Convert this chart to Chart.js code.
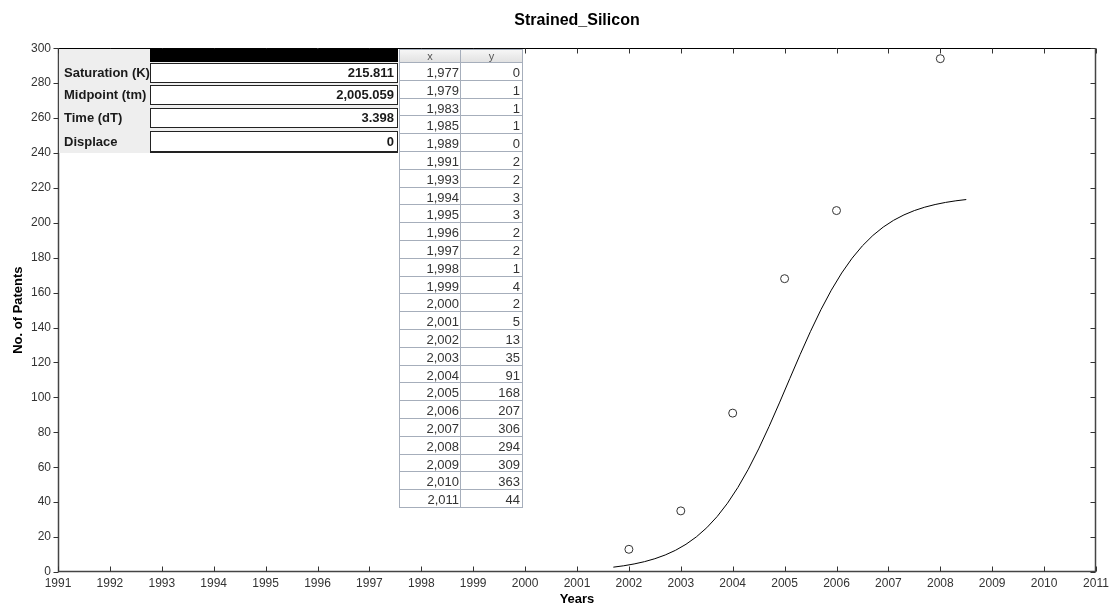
<!DOCTYPE html>
<html>
<head>
<meta charset="utf-8">
<script src="https://cdn.jsdelivr.net/npm/chart.js@4/dist/chart.umd.min.js"></script>
<style>
  html, body { margin: 0; padding: 0; background: #fff; }
  #wrap { position: relative; width: 1114px; height: 606px; overflow: hidden;
          font-family: "Liberation Sans", Arial, sans-serif; }
  #chart { position: absolute; left: 0; top: 0; }
  .panel { position: absolute; left: 59px; top: 49px; width: 339px; height: 104px; background: #eeeeee; }
  .bar { position: absolute; left: 150px; top: 49px; width: 248px; height: 13px; background: #000; }
  .lbl { position: absolute; left: 64px; font-weight: bold; font-size: 13px; color: #1a1a1a; }
  .fld { position: absolute; left: 150px; width: 248px; box-sizing: border-box; background: #fff;
         border: 1px solid #222; text-align: right; padding-right: 3px; font-weight: bold;
         font-size: 13px; color: #1a1a1a; }
  .hdr { position: absolute; height: 14px; box-sizing: border-box; font-size: 11px; color: #555;
         text-align: center; line-height: 12px; background: linear-gradient(#f6f6f6, #e2e2e2);
         border: 1px solid #a6aebb; }
  .cell { position: absolute; box-sizing: border-box; font-size: 13px; color: #333; text-align: right;
          padding-right: 2px; background: #fff; border-bottom: 1px solid #a6aebb; border-left: 1px solid #a6aebb; }
  .cell.yv { border-right: 1px solid #a6aebb; }
</style>
</head>
<body>
<div id="wrap">
  <canvas id="chart" width="1114" height="606"></canvas>
</div>
<script>
// Yearly patent counts (x = year, y = patents)
const tableX = [1977, 1979, 1983, 1985, 1989, 1991, 1993, 1994, 1995, 1996, 1997, 1998, 1999,
                2000, 2001, 2002, 2003, 2004, 2005, 2006, 2007, 2008, 2009, 2010, 2011];
const tableY = [0, 1, 1, 1, 0, 2, 2, 3, 3, 2, 2, 1, 4,
                2, 5, 13, 35, 91, 168, 207, 306, 294, 309, 363, 44];

// Years plotted as observed points
const plotFrom = 2002;
const plotTo = 2010;

// Fitted logistic parameters
const paramLabels = ['Saturation (K)', 'Midpoint (tm)', 'Time (dT)', 'Displace'];
const paramValues = [215.811, 2005.059, 3.398, 0];

// Span of the fitted curve
const curveFrom = 2001.7;
const curveTo = 2008.5;
const curveStep = 0.2;

// Axis ranges and ticks
const xMin = 1991, xMax = 2011, xStep = 1;
const yMin = 0, yMax = 300, yStep = 20;

const chartTitle = 'Strained_Silicon';
const xTitle = 'Years';
const yTitle = 'No. of Patents';

const FONT = '"Liberation Sans", Arial, sans-serif';

// observed points
const points = [];
tableX.forEach((yr, i) => {
  if (yr >= plotFrom && yr <= plotTo) points.push({ x: yr, y: tableY[i] });
});

// Fisher-Pry logistic curve from the parameters in the panel
const [K, tm, dT, disp] = paramValues;
const rate = Math.log(81) / dT;
const curve = [];
for (let t = curveFrom; t <= curveTo + 1e-9; t += curveStep) {
  curve.push({ x: t, y: K / (1 + Math.exp(-rate * (t - tm))) + disp });
}

// frame with inward ticks on bottom/top/right and outward ticks on the left
const framePlugin = {
  id: 'frame',
  afterDatasetsDraw(chart) {
    const { ctx, chartArea: a, scales: { x, y } } = chart;
    const L = Math.round(a.left) + 0.5, R = Math.round(a.right) - 0.5;
    const T = Math.round(a.top) + 0.5, B = Math.round(a.bottom) - 0.5;
    ctx.save();
    ctx.lineWidth = 1;
    ctx.strokeStyle = '#000';
    ctx.beginPath(); ctx.moveTo(L, T); ctx.lineTo(R, T); ctx.stroke();
    ctx.strokeStyle = '#444';
    ctx.lineWidth = 1.5;
    ctx.beginPath();
    ctx.moveTo(L, T); ctx.lineTo(L, B); ctx.lineTo(R, B); ctx.lineTo(R, T);
    ctx.stroke();
    ctx.lineWidth = 1;
    ctx.strokeStyle = '#333';
    ctx.beginPath();
    x.ticks.forEach(t => {
      const px = Math.round(x.getPixelForValue(t.value)) + 0.5;
      ctx.moveTo(px, B); ctx.lineTo(px, B - 5);
      ctx.moveTo(px, T); ctx.lineTo(px, T + 5);
    });
    y.ticks.forEach(t => {
      const py = Math.round(y.getPixelForValue(t.value)) + 0.5;
      ctx.moveTo(L, py); ctx.lineTo(L - 5, py);
      ctx.moveTo(R, py); ctx.lineTo(R - 5, py);
    });
    ctx.stroke();
    ctx.restore();
  }
};

new Chart(document.getElementById('chart'), {
  type: 'scatter',
  data: {
    datasets: [
      {
        data: points,
        showLine: false,
        pointRadius: 4,
        pointHoverRadius: 4,
        pointBackgroundColor: '#fff',
        pointBorderColor: '#333',
        pointBorderWidth: 1,
        clip: 0
      },
      {
        data: curve,
        showLine: true,
        pointRadius: 0,
        borderColor: '#000',
        borderWidth: 1,
        tension: 0,
        clip: 0
      }
    ]
  },
  options: {
    responsive: false,
    animation: false,
    devicePixelRatio: 1,
    layout: { padding: { left: 0, right: 18, top: 0, bottom: 0 } },
    plugins: {
      legend: { display: false },
      tooltip: { enabled: false },
      title: {
        display: true,
        text: chartTitle,
        fullSize: false,
        color: '#000',
        font: { family: FONT, size: 16, weight: 'bold' },
        padding: { top: 11, bottom: 18 }
      }
    },
    scales: {
      x: {
        type: 'linear',
        min: xMin, max: xMax,
        grid: { display: false, drawTicks: false },
        border: { display: false },
        ticks: {
          stepSize: xStep,
          autoSkip: false,
          maxRotation: 0,
          padding: 4,
          color: '#333',
          font: { family: FONT, size: 12 },
          callback: v => String(v)
        },
        title: {
          display: true, text: xTitle, color: '#000',
          font: { family: FONT, size: 13, weight: 'bold' },
          padding: { top: 0, bottom: -1 }
        },
        afterFit(s) { s.height = 34; }
      },
      y: {
        type: 'linear',
        min: yMin, max: yMax,
        grid: { display: false, drawTicks: false },
        border: { display: false },
        ticks: {
          stepSize: yStep,
          padding: 7,
          color: '#333',
          font: { family: FONT, size: 12 },
          callback: v => String(v)
        },
        title: {
          display: true, text: yTitle, color: '#000',
          font: { family: FONT, size: 13, weight: 'bold' },
          padding: { top: 11, bottom: 0 }
        },
        afterFit(s) { s.width = 58; }
      }
    }
  },
  plugins: [framePlugin]
});

// parameter panel and data table drawn over the plot
const wrap = document.getElementById('wrap');
function add(cls, css, text) {
  const d = document.createElement('div');
  d.className = cls;
  Object.assign(d.style, css);
  if (text !== undefined) d.textContent = text;
  wrap.appendChild(d);
  return d;
}
const fmt = v => v.toLocaleString('en-US', { maximumFractionDigits: 3 });

add('panel', {});
add('bar', {});
const fieldTops = [63, 85, 108, 131];
const fieldHeights = [20, 20, 20, 22];
paramLabels.forEach((lab, i) => {
  add('lbl', { top: fieldTops[i] + 'px', lineHeight: fieldHeights[i] + 'px' }, lab);
  add('fld', { top: fieldTops[i] + 'px', height: fieldHeights[i] + 'px',
               lineHeight: (fieldHeights[i] - 2) + 'px',
               borderBottomWidth: i === paramLabels.length - 1 ? '2px' : '1px' }, fmt(paramValues[i]));
});

const tblLeft = 399, tblTop = 49, hdrH = 14, rowH = 17.8;
const colX = [tblLeft, 460], colW = [61, 63];
add('hdr', { left: colX[0] + 'px', top: tblTop + 'px', width: (colW[0] + 1) + 'px' }, 'x');
add('hdr', { left: colX[1] + 'px', top: tblTop + 'px', width: colW[1] + 'px' }, 'y');
tableX.forEach((yr, i) => {
  const top = tblTop + hdrH + i * rowH;
  const cellCss = { top: top + 'px', height: rowH + 'px', paddingTop: '3px', lineHeight: '14px' };
  add('cell', Object.assign({ left: colX[0] + 'px', width: (colW[0] + 1) + 'px' }, cellCss), fmt(yr));
  add('cell yv', Object.assign({ left: colX[1] + 'px', width: colW[1] + 'px' }, cellCss), fmt(tableY[i]));
});
</script>
</body>
</html>
